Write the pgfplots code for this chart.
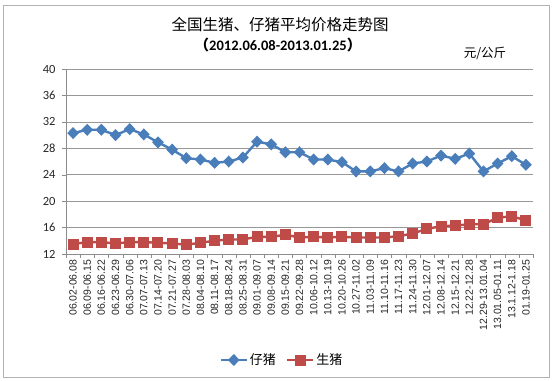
\documentclass[border=0pt]{standalone}
\usepackage{pgfplots}
\pgfplotsset{compat=1.18}
\usepackage{fontspec}
\setmainfont{Carlito}
\newfontfamily\cjk{Noto Sans CJK SC}
\newfontfamily\arialf{Liberation Sans}
\definecolor{pigblue}{HTML}{4A7EBB}
\definecolor{pigred}{HTML}{BE4B48}
\definecolor{gridg}{HTML}{8C8C8C}
\begin{document}
\begin{tikzpicture}
\useasboundingbox (0,0) rectangle (555bp,381bp);
\draw[draw=gray!60, line width=0.8bp] (3bp,4bp) rectangle (549bp,376bp);
\node[font=\cjk\fontsize{15.5bp}{17bp}\selectfont, anchor=center] at (280bp,356bp) {全国生猪、仔猪平均价格走势图};
\node[font=\fontsize{14.5bp}{16bp}\selectfont\bfseries, anchor=center] at (278bp,336bp) {{\cjk（}2012.06.08-2013.01.25{\cjk）}};
\node[font=\cjk\fontsize{12.5bp}{14bp}\selectfont, anchor=center] at (485bp,328bp) {元/公斤};
\begin{axis}[
  at={(66bp,127bp)}, anchor=south west,
  scale only axis, width=467bp, height=185bp,
  xmin=-0.5, xmax=32.5, ymin=12, ymax=40,
  ytick={12,16,...,40},
  xtick={0,...,32},
  minor xtick={-0.5,0.5,...,32.5},
  major x tick style={draw=none},
  minor x tick style={draw=gridg},
  minor tick length=4bp,
  major tick length=4bp,
  tick align=outside,
  axis x line*=bottom, axis y line*=left,
  axis line style={draw=gridg, -},
  ymajorgrids, grid style={draw=gridg!90, line width=0.6bp},
  y tick style={draw=gridg},
  xticklabels={06.02-06.08,06.09-06.15,06.16-06.22,06.23-06.29,06.30-07.06,07.07-07.13,07.14-07.20,07.21-07.27,07.28-08.03,08.04-08.10,08.11-08.17,08.18-08.24,08.25-08.31,09.01-09.07,09.08-09.14,09.15-09.21,09.22-09.28,10.06-10.12,10.13-10.19,10.20-10.26,10.27-11.02,11.03-11.09,11.10-11.16,11.17-11.23,11.24-11.30,12.01-12.07,12.08-12.14,12.15-12.21,12.22-12.28,12.29-13.01.04,13.01.05-01.11,13.1.12-1.18,01.19-01.25},
  xticklabel style={rotate=90, anchor=east, font=\arialf\fontsize{10.5bp}{12bp}\selectfont, inner sep=1.5bp, text=black!85},
  yticklabel style={font=\fontsize{12.5bp}{14bp}\selectfont, xshift=-3bp, text=black!85},
  /pgf/number format/assume math mode=true,
  legend style={at={(0.4625,-0.573)}, anchor=center, draw=none, fill=none, font=\cjk\fontsize{13bp}{14bp}\selectfont, /tikz/every even column/.append style={column sep=8bp}},
  legend columns=2,
  legend image code/.code={\draw[#1] (0bp,0bp) -- (13bp,0bp) (13bp,0bp) -- (26bp,0bp); \path[#1, draw=none] plot coordinates {(13bp,0bp)};},
]
\addplot[color=pigblue, line width=2.4bp, mark=diamond*, mark size=4.3bp, mark options={xscale=1.3, solid}] coordinates {
(0,30.3)(1,30.8)(2,30.8)(3,30.0)(4,30.9)(5,30.1)(6,28.9)(7,27.8)(8,26.5)(9,26.3)(10,25.8)(11,26.0)(12,26.6)(13,29.0)(14,28.6)(15,27.4)(16,27.4)(17,26.3)(18,26.3)(19,25.9)(20,24.5)(21,24.5)(22,25.0)(23,24.5)(24,25.7)(25,26.0)(26,26.9)(27,26.4)(28,27.2)(29,24.5)(30,25.7)(31,26.8)(32,25.5)};
\addlegendentry{仔猪}
\addplot[color=pigred, line width=2.4bp, mark=square*, mark size=4.3bp, mark options={solid}] coordinates {
(0,13.5)(1,13.8)(2,13.8)(3,13.6)(4,13.8)(5,13.8)(6,13.7)(7,13.6)(8,13.4)(9,13.7)(10,14.0)(11,14.2)(12,14.2)(13,14.6)(14,14.6)(15,14.9)(16,14.5)(17,14.6)(18,14.5)(19,14.6)(20,14.5)(21,14.5)(22,14.5)(23,14.7)(24,15.1)(25,15.8)(26,16.2)(27,16.3)(28,16.5)(29,16.5)(30,17.5)(31,17.7)(32,17.1)};
\addlegendentry{生猪}
\end{axis}
\end{tikzpicture}
\end{document}
